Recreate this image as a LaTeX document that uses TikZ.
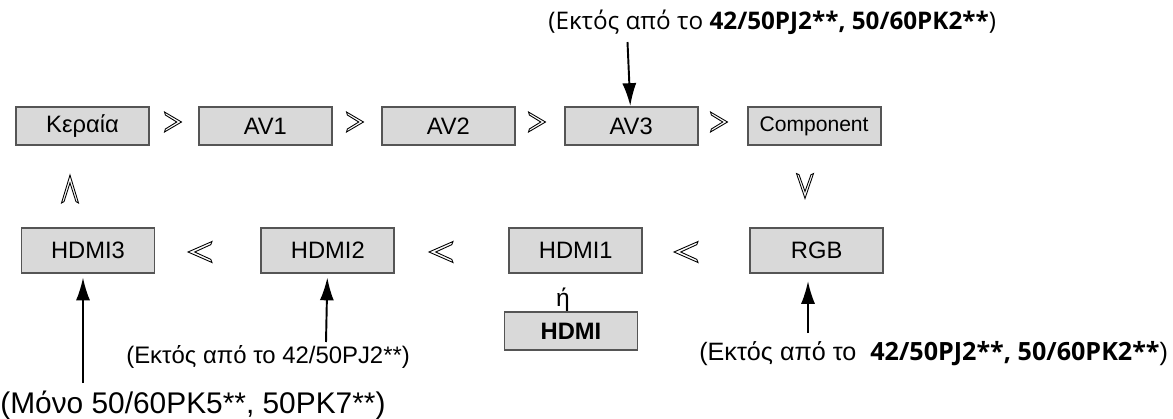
\documentclass[tikz,border=0pt]{standalone}
\usepackage{fontspec}
\usepackage{xcolor}
\setmainfont{Liberation Sans}
\newfontfamily\humanfont{Open Sans}
\usetikzlibrary{arrows.meta,positioning}
\definecolor{boxgray}{RGB}{217, 217, 217}
\definecolor{edgegray}{RGB}{85, 85, 85}

% hollow chevron glyph, pointing to +x, centred on the origin
\tikzset{
    chevron/.pic={
        \draw[line width=0.5pt] (-0.5,1) -- (0.5,0) -- (-0.5,-1) -- (-0.45,-0.7) -- (0.22,0) -- (-0.45,0.7) -- cycle;
    }
}

\begin{document}
\begin{tikzpicture}[
    x=0.02cm, y=-0.02cm,
    every node/.style={align=center},
    srcbox/.style={rectangle, draw=edgegray, fill=boxgray, line width=1.1pt, minimum width=2.66cm, minimum height=0.76cm, inner sep=0pt, font=\fontsize{13.5}{16}\selectfont},
    lowbox/.style={srcbox, minimum height=0.9cm},
    note/.style={inner sep=0pt, font=\fontsize{13.6}{16}\selectfont},
    feed/.style={line width=1.1pt, -{Latex[length=13pt,width=8pt]}}
]
\useasboundingbox (0,0) rectangle (1173,419);

% Top row of sources
\node[srcbox] (antenna) at (82.5,126) {Κεραία};
\node[srcbox, right=0.96cm of antenna] (av1) {AV1};
\node[srcbox, right=0.96cm of av1] (av2) {AV2};
\node[srcbox, right=0.96cm of av2] (av3) {AV3};
\node[srcbox, right=0.96cm of av3, font=\fontsize{12}{14}\selectfont] (component) {Component};

% Bottom row of sources
\node[lowbox] (hdmi3) at (88,250.5) {HDMI3};
\node[lowbox, right=2.1cm of hdmi3] (hdmi2) {HDMI2};
\node[lowbox, right=2.26cm of hdmi2] (hdmi1) {HDMI1};
\node[lowbox, right=2.12cm of hdmi1] (rgb) {RGB};
\node (or) at (563,300) {\fontsize{14}{16}\selectfont ή};
\node[srcbox, font=\fontsize{13.5}{16}\selectfont\bfseries] (hdmi) at (571,331) {HDMI};

% Order of the sources
\pic[xscale=17, yscale=10] at (173,122) {chevron};
\pic[xscale=17, yscale=10] at (355,122) {chevron};
\pic[xscale=17, yscale=10] at (537,122) {chevron};
\pic[xscale=17, yscale=10] at (719,122) {chevron};
\pic[rotate=-90, xscale=25, yscale=8.5] at (805,186) {chevron};
\pic[rotate=180, xscale=24, yscale=10.5] at (686,252) {chevron};
\pic[rotate=180, xscale=24, yscale=10.5] at (441,252) {chevron};
\pic[rotate=180, xscale=24, yscale=10.5] at (200,252) {chevron};
\pic[rotate=90, xscale=28, yscale=8.5] at (70,189) {chevron};

% Notes
\node[note, anchor=west, font=\fontsize{13.8}{16}\humanfont] (av3note) at (548,22) {(Εκτός από το {\bfseries 42/50PJ2**, 50/60PK2**})};
\node[note, anchor=west] (hdmi2note) at (126,357) {(Εκτός από το 42/50PJ2**)};
\node[note, anchor=west, font=\fontsize{14.3}{16}\selectfont] (rgbnote) at (699,354) {(Εκτός από το \ {\humanfont\bfseries 42/50PJ2**, 50/60PK2**})};
\node[note, anchor=west, font=\fontsize{17}{19}\selectfont] (hdmi3note) at (0,405) {(Μόνο 50/60PK5**, 50PK7**)};

% Connections
\coordinate (av3tail) at (627.5,42);
\coordinate (hdmi3tail) at (83,383);
\coordinate (hdmi2tail) at (326,342);
\coordinate (rgbtail) at (808,333);
\draw[feed] (av3tail) -- (av3);
\draw[feed, shorten >=2pt] (hdmi3tail) -- (hdmi3tail |- hdmi3.south);
\draw[feed, shorten >=2pt] (hdmi2tail) -- (hdmi2);
\draw[feed, shorten >=4pt] (rgbtail) -- (rgbtail |- rgb.south);

\end{tikzpicture}
\end{document}
